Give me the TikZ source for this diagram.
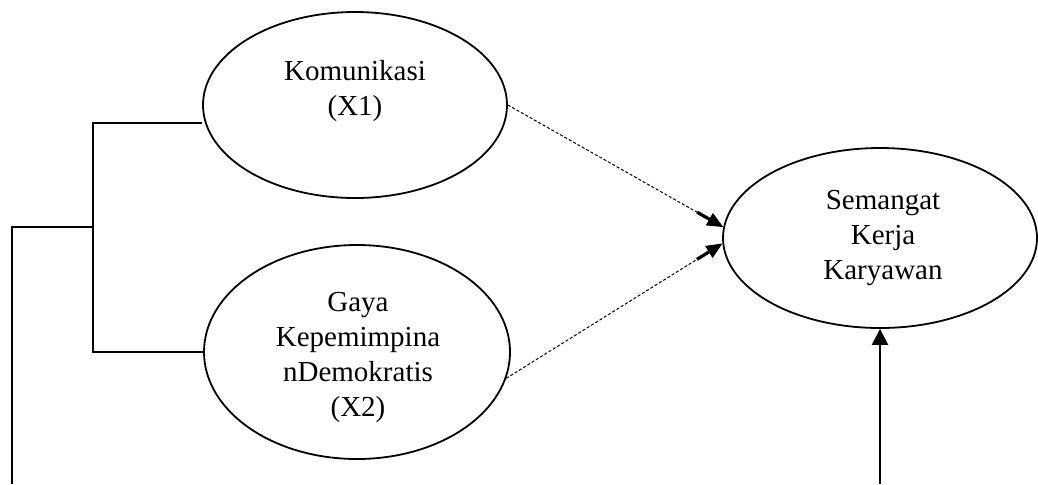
\documentclass[tikz,border=0pt]{standalone}
\usepackage{fontspec}
\setmainfont{Liberation Serif}
\usetikzlibrary{positioning,arrows.meta,calc,shapes.geometric}
\tikzset{
  varel/.style={draw=black, ellipse, line width=0.9pt, inner sep=0pt},
  lbl/.style={align=center, font=\fontsize{14.5}{17.5}\selectfont, inner sep=0pt},
  conn/.style={draw=black, line width=1pt},
  arrd/.style={-{Rectangle[length=7pt,width=1.6pt]Triangle[length=8pt,width=7pt]}, line width=0.5pt, dash pattern=on 1.5pt off 1pt},
  arrs/.style={-{Triangle[length=8pt,width=8pt]}, line width=1.2pt},
}
\begin{document}
\begin{tikzpicture}[x=0.5pt,y=-0.5pt]
  \useasboundingbox (0,0) rectangle (1038,484);
  % variables
  \node[varel, minimum width=152pt, minimum height=93pt] (kom) at (355,105) {};
  \node[varel, minimum width=153pt, minimum height=107pt] (gaya) at (357,352) {};
  \node[varel, minimum width=157pt, minimum height=90pt] (sem) at (880,238) {};
  \node[lbl] (komtxt) at (355,91) {Komunikasi\\(X1)};
  \node[lbl] (gayatxt) at (358,357) {Gaya\\Kepemimpina\\nDemokratis\\(X2)};
  \node[lbl] (semtxt) at (883,238) {Semangat\\Kerja\\Karyawan};
  % bracket on the left
  \coordinate (jTop) at (93,123);
  \coordinate (jBot) at (93,352);
  \coordinate (jMid) at (93,227);
  \coordinate (lMid) at (12,227);
  \coordinate (lEnd) at (12,484);
  \draw[conn] (kom.west |- jTop) -- (jTop) -- (jBot) -- (gaya.west);
  \draw[conn] (jMid) -- (lMid) -- (lEnd);
  % paths
  \draw[arrd] (kom.east) -- (sem.176);
  \draw[arrd] (gaya.-10) -- (sem.182);
  \coordinate (bArr) at (880,484);
  \draw[arrs] (bArr) -- (sem.south);
\end{tikzpicture}
\end{document}
